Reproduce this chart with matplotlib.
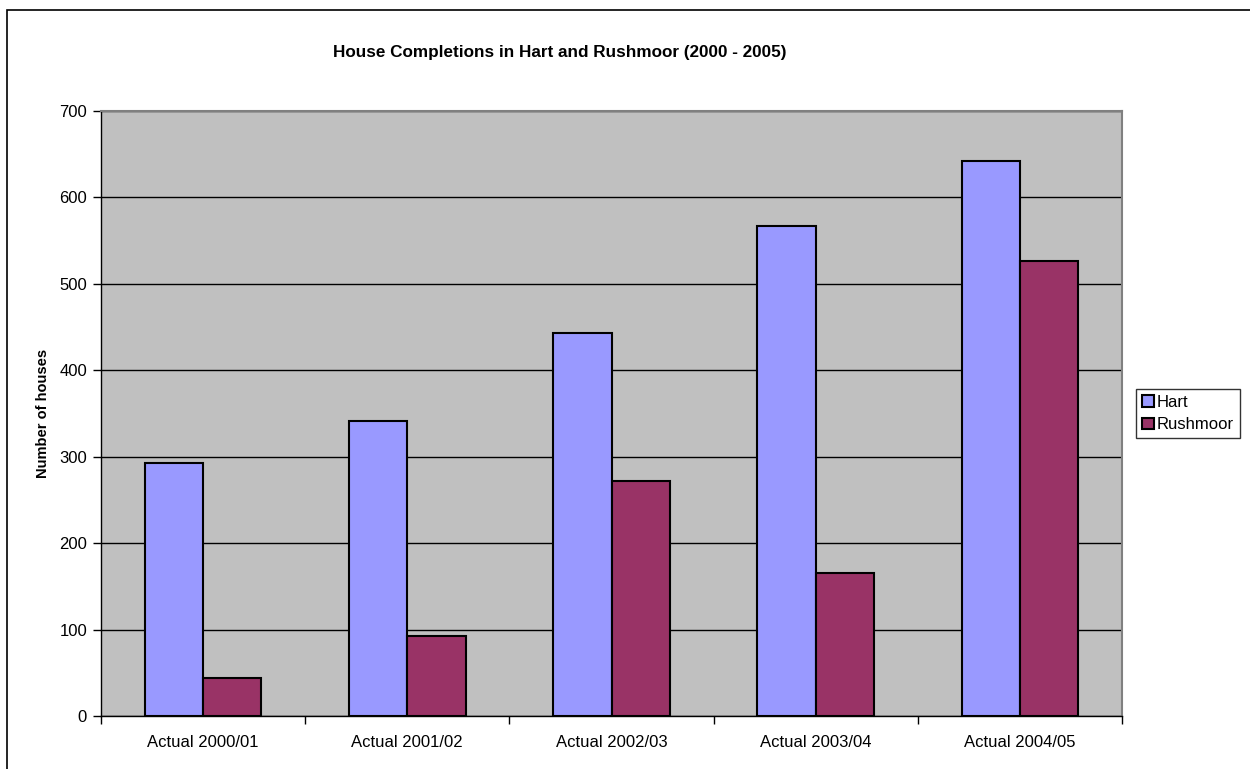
import numpy as np
import matplotlib.pyplot as plt
from matplotlib.patches import Rectangle

plt.rcParams['font.family'] = ['Liberation Sans', 'DejaVu Sans']

years = ['Actual 2000/01', 'Actual 2001/02', 'Actual 2002/03', 'Actual 2003/04', 'Actual 2004/05']
hart = [293, 341, 443, 567, 642]
rushmoor = [44, 93, 272, 165, 527]

fig = plt.figure(figsize=(12.5, 7.69), dpi=100)
ax = fig.add_axes([101/1250, 1-716/769, (1122-101)/1250, (716-111)/769])
ax.set_facecolor('#C0C0C0')

x = np.arange(len(years))
w = 1/3.5
ax.bar(x - w/2, hart, w, color='#9999FF', edgecolor='black', linewidth=1.5, label='Hart', zorder=3)
ax.bar(x + w/2, rushmoor, w, color='#993366', edgecolor='black', linewidth=1.5, label='Rushmoor', zorder=3)

ax.set_xlim(-0.5, len(years) - 0.5)
ax.set_ylim(0, 700)
ax.set_yticks(range(0, 701, 100))
ax.yaxis.grid(True, color='black', linewidth=1, zorder=1)
ax.set_axisbelow(True)

ax.set_xticks(x)
ax.set_xticklabels(years, fontsize=12)
ax.set_xticks(np.arange(-0.5, len(years) + 0.5, 1), minor=True)
ax.tick_params(axis='x', which='major', length=0, pad=14)
ax.tick_params(axis='x', which='minor', length=6, width=1, direction='out')
ax.tick_params(axis='y', length=6, width=1, direction='out', labelsize=12, pad=4)

for s in ['top', 'right']:
    ax.spines[s].set_color('#808080')
    ax.spines[s].set_linewidth(1.5)
for s in ['left', 'bottom']:
    ax.spines[s].set_color('black')
    ax.spines[s].set_linewidth(1)

ax.set_ylabel('Number of houses', fontsize=10.5, fontweight='bold', labelpad=7)

fig.text(560/1250, 1 - 53/769, 'House Completions in Hart and Rushmoor (2000 - 2005)',
         fontsize=12.3, fontweight='bold', ha='center', va='center')

leg = fig.legend(loc='upper left', bbox_to_anchor=(1136/1250, 1 - 389/769), fontsize=12,
                 frameon=True, fancybox=False, edgecolor='black', handlelength=0.7,
                 handleheight=0.7, handletextpad=0.2, borderpad=0.35, labelspacing=0.45,
                 borderaxespad=0)
leg.get_frame().set_linewidth(1)

fig.patches.append(Rectangle((7/1250, -0.1), 1.2, 1 - 10/769 + 0.1, transform=fig.transFigure,
                             fill=False, edgecolor='black', linewidth=1.2))

fig.savefig('out.png', dpi=100)
